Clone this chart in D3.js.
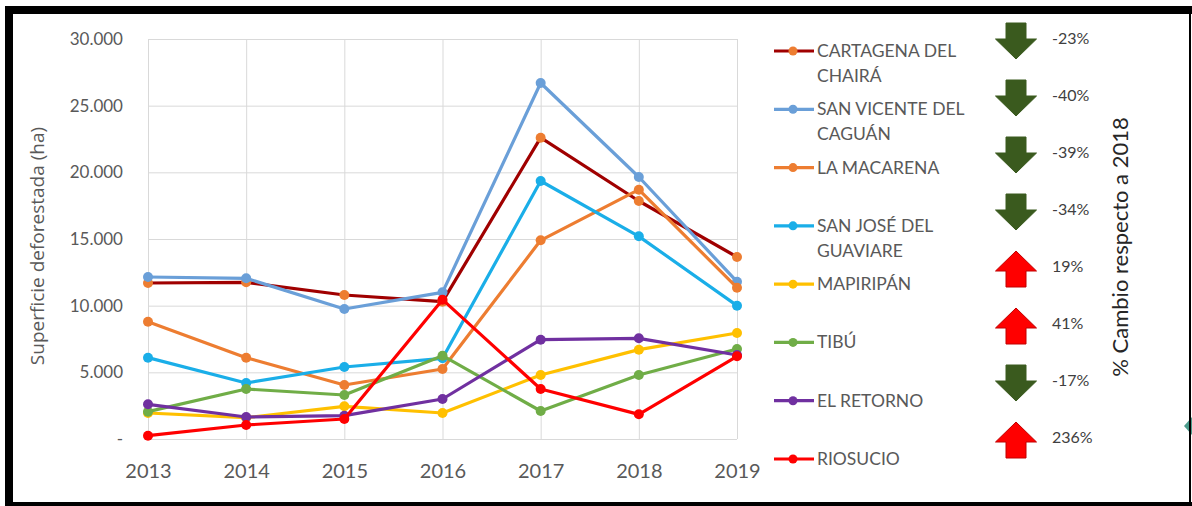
<!DOCTYPE html>
<html>
<script src='https://d3js.org/d3.v7.min.js'></script>
<style>
  body {margin:0; background:#fff;}
  text {font-family: Lato, 'Open Sans', sans-serif;}
</style>
<body onload='init()'>
<svg width=1192 height=506></svg>
<script>
const years = [2013, 2014, 2015, 2016, 2017, 2018, 2019];
const names = ['CARTAGENA DEL CHAIRÁ', 'SAN VICENTE DEL CAGUÁN', 'LA MACARENA', 'SAN JOSÉ DEL GUAVIARE',
               'MAPIRIPÁN', 'TIBÚ', 'EL RETORNO', 'RIOSUCIO'];
const legendLines = [['CARTAGENA DEL', 'CHAIRÁ'], ['SAN VICENTE DEL', 'CAGUÁN'], ['LA MACARENA'],
                     ['SAN JOSÉ DEL', 'GUAVIARE'], ['MAPIRIPÁN'], ['TIBÚ'], ['EL RETORNO'], ['RIOSUCIO']];
const cartagena  = [11700, 11750, 10800, 10300, 22600, 17850, 13650];
const sanVicente = [12150, 12050, 9750, 11000, 26700, 19650, 11800];
const laMacarena = [8800, 6100, 4050, 5250, 14900, 18700, 11350];
const sanJose    = [6100, 4200, 5400, 6050, 19350, 15200, 10000];
const mapiripan  = [1950, 1600, 2450, 1950, 4800, 6700, 7950];
const tibu       = [2050, 3750, 3300, 6250, 2100, 4800, 6750];
const elRetorno  = [2600, 1650, 1750, 3000, 7450, 7550, 6300];
const riosucio   = [250, 1050, 1500, 10450, 3750, 1850, 6200];
const changes = ['-23%', '-40%', '-39%', '-34%', '19%', '41%', '-17%', '236%'];
const yTicks = [0, 5000, 10000, 15000, 20000, 25000, 30000];

function init() {
  var series = [cartagena, sanVicente, laMacarena, sanJose, mapiripan, tibu, elRetorno, riosucio];
  var lineCol = ['#a00000', '#6a9fd8', '#ed7d31', '#1aaee8', '#ffc000', '#70ad47', '#7030a0', '#ff0000'];
  var dotCol  = ['#ed7d31', '#6a9fd8', '#ed7d31', '#1aaee8', '#ffc000', '#70ad47', '#7030a0', '#ff0000'];
  var svg = d3.select('svg');
  var loc = d3.formatLocale({decimal: ',', thousands: '.', grouping: [3], currency: ['$', '']});
  var fmt = loc.format(',');

  var xs = d3.scalePoint().domain(years).range([148, 737]);
  var ys = d3.scaleLinear().domain([0, 30000]).range([439, 39]);

  // grid + y axis
  var ya = svg.append('g').attr('transform', 'translate(148,0)')
    .call(d3.axisLeft(ys).tickValues(yTicks).tickSize(-589).tickPadding(25)
      .tickFormat(function(d){ return d == 0 ? '-' : fmt(d); }));
  ya.select('.domain').remove();
  ya.selectAll('line').attr('stroke', '#d9d9d9');
  ya.selectAll('text').attr('fill', '#595959').style('font-size', '17px');

  var xa = svg.append('g').attr('transform', 'translate(0,439)')
    .call(d3.axisBottom(xs).tickSize(-400).tickPadding(25));
  xa.select('.domain').remove();
  xa.selectAll('line').attr('stroke', '#d9d9d9');
  xa.selectAll('text').attr('fill', '#595959').style('font-size', '20px');

  svg.append('text').attr('transform', 'translate(44,246) rotate(-90)')
    .attr('text-anchor', 'middle').attr('fill', '#595959')
    .style('font-family', "'Open Sans', sans-serif").style('font-size', '19px')
    .text('Superficie deforestada (ha)');

  var line = d3.line().x(function(d, i){ return xs(years[i]); }).y(function(d){ return ys(d); });
  series.forEach(function(s, k) {
    var g = svg.append('g');
    g.append('path').attr('d', line(s)).attr('fill', 'none')
      .attr('stroke', lineCol[k]).attr('stroke-width', 3.2).attr('stroke-linejoin', 'round');
    g.selectAll('circle').data(s).enter().append('circle')
      .attr('cx', function(d, i){ return xs(years[i]); })
      .attr('cy', function(d){ return ys(d); })
      .attr('r', 5).attr('fill', dotCol[k]);
  });

  // legend
  var ly = d3.scalePoint().domain(names).range([51, 459]);
  names.forEach(function(n, k) {
    var y = ly(n);
    svg.append('line').attr('x1', 774).attr('x2', 814).attr('y1', y).attr('y2', y)
      .attr('stroke', lineCol[k]).attr('stroke-width', 3.2);
    svg.append('circle').attr('cx', 793).attr('cy', y).attr('r', 4.5).attr('fill', dotCol[k]);
    legendLines[k].forEach(function(t, j) {
      svg.append('text').attr('x', 817).attr('y', y + 6 + j * 25)
        .attr('fill', '#595959').style('font-size', '17.5px').text(t);
    });
  });

  // change arrows
  var ay = d3.scalePoint().domain(names).range([41, 440]);
  names.forEach(function(n, k) {
    var c = ay(n), cx = 1016, down = changes[k][0] == '-';
    var s = down ? 1 : -1;
    var pts = [[cx - 10, c - 18 * s], [cx + 10, c - 18 * s], [cx + 10, c - 2 * s], [cx + 20.5, c - 2 * s],
               [cx, c + 18 * s], [cx - 20.5, c - 2 * s], [cx - 10, c - 2 * s]];
    svg.append('polygon').attr('points', pts.map(function(p){ return p.join(','); }).join(' '))
      .attr('fill', down ? '#3a5a1e' : '#ff0000')
      .attr('stroke', down ? '#3a5a1e' : '#c00000').attr('stroke-width', 1);
    svg.append('text').attr('x', 1052).attr('y', c + 3).attr('fill', '#404040')
      .style('font-size', '16px').text(changes[k]);
  });

  svg.append('text').attr('transform', 'translate(1128,247) rotate(-90)')
    .attr('text-anchor', 'middle').attr('fill', '#262626').style('font-size', '22px')
    .text('% Cambio respecto a  2018');

  svg.append('polygon').attr('points', '1184,426 1192,417 1192,435').attr('fill', '#4c9c8c');

  // frame
  svg.append('rect').attr('x', 5).attr('y', 6).attr('width', 1187).attr('height', 8).attr('fill', '#000');
  svg.append('rect').attr('x', 5).attr('y', 6).attr('width', 8).attr('height', 500).attr('fill', '#000');
  svg.append('rect').attr('x', 5).attr('y', 502).attr('width', 1187).attr('height', 4).attr('fill', '#000');
  svg.append('rect').attr('x', 1189).attr('y', 6).attr('width', 2).attr('height', 500).attr('fill', '#000');
}
</script>
</body>
</html>
